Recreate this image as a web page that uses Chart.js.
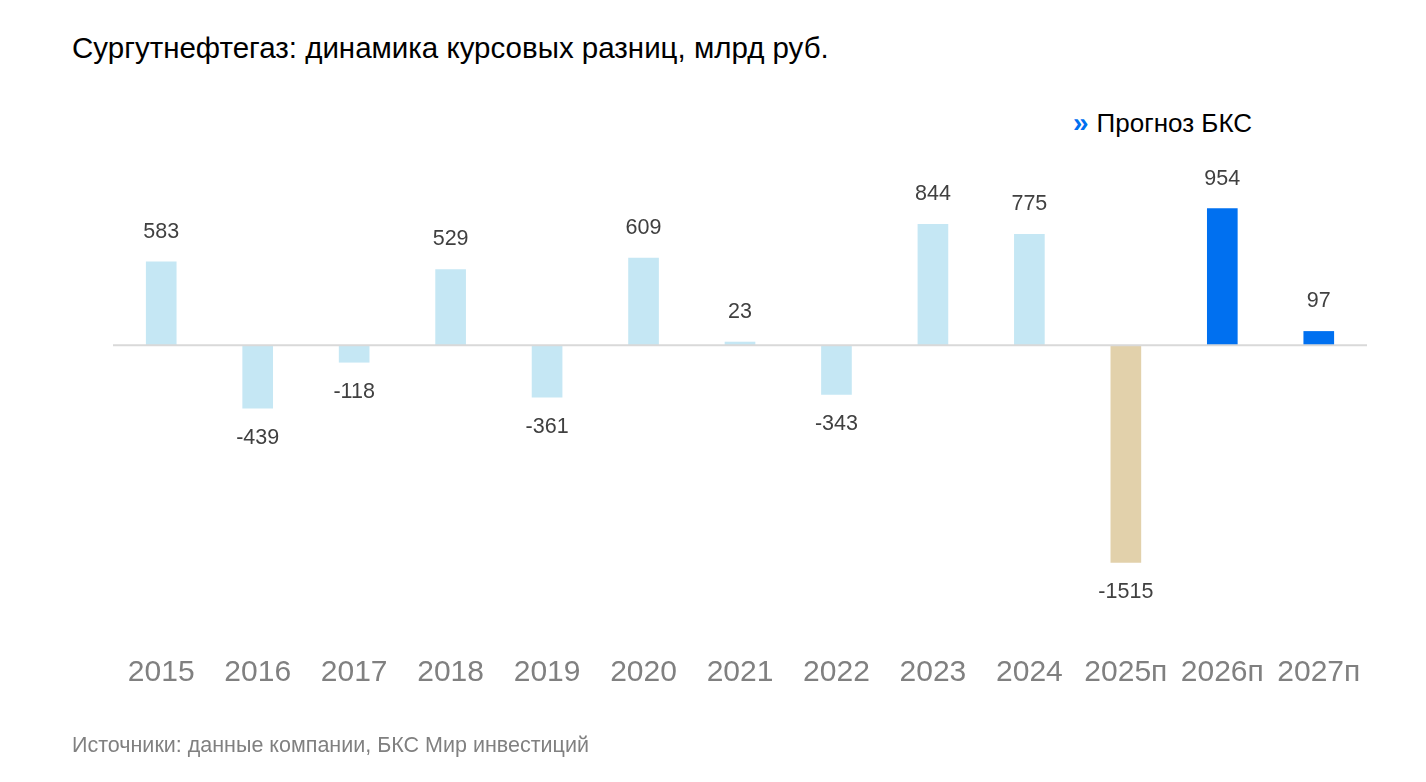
<!DOCTYPE html>
<html><head><meta charset="utf-8">
<script src="https://cdn.jsdelivr.net/npm/chart.js@4"></script>
<style>
body{margin:0;width:1426px;height:782px;background:#fff;font-family:Arial,"Liberation Sans",sans-serif;position:relative;overflow:hidden}
#title{position:absolute;left:72px;top:31px;font-size:29.5px;color:#000}
#legend{position:absolute;left:1073px;top:107px;font-size:26px;color:#000}
#legend b{color:#0070f0;font-size:28px;margin-right:8px}
#src{position:absolute;left:72px;top:733px;font-size:21.5px;color:#808080}
#wrap{position:absolute;left:0;top:0;width:1426px;height:737px}
</style></head><body>
<div id="title">Сургутнефтегаз: динамика курсовых разниц, млрд руб.</div>
<div id="legend"><b>»</b>Прогноз БКС</div>
<div id="wrap"><canvas id="c"></canvas></div>
<div id="src">Источники: данные компании, БКС Мир инвестиций</div>
<script>
const years = ['2015','2016','2017','2018','2019','2020','2021','2022','2023','2024','2025п','2026п','2027п'];
const values = [583,-439,-118,529,-361,609,23,-343,844,775,-1515,954,97];
const colors = ['#c5e7f4','#c5e7f4','#c5e7f4','#c5e7f4','#c5e7f4','#c5e7f4','#c5e7f4','#c5e7f4','#c5e7f4','#c5e7f4','#e2d1ab','#0070f0','#0070f0'];

const labelsPlugin = {
  id: 'vals',
  afterDatasetsDraw(chart) {
    const ctx = chart.ctx, y = chart.scales.y, a = chart.chartArea;
    ctx.save();
    ctx.strokeStyle = '#d9d9d9'; ctx.lineWidth = 2;
    ctx.beginPath(); ctx.moveTo(a.left, y.getPixelForValue(0)); ctx.lineTo(a.right, y.getPixelForValue(0)); ctx.stroke();
    ctx.fillStyle = '#404040'; ctx.font = '21.5px Arial, "Liberation Sans"';
    ctx.textAlign = 'center'; ctx.textBaseline = 'middle';
    chart.getDatasetMeta(0).data.forEach((bar, i) => {
      const v = values[i];
      ctx.fillText(String(v), bar.x, v >= 0 ? bar.y - 30 : bar.y + 30);
    });
    ctx.restore();
  }
};

new Chart(document.getElementById('c'), {
  type: 'bar',
  data: { labels: years, datasets: [{ data: values, backgroundColor: colors, barThickness: 30 }] },
  options: {
    responsive: true, maintainAspectRatio: false, animation: false,
    layout: { padding: { left: 113, right: 59, top: 160, bottom: 17 } },
    plugins: { legend: { display: false }, tooltip: { enabled: false } },
    scales: {
      x: { grid: { display: false, drawTicks: false }, border: { display: false },
           ticks: { color: '#808080', padding: 29, font: { size: 30, family: 'Arial, "Liberation Sans"' } } },
      y: { display: false, min: -1958, max: 1293 }
    }
  },
  plugins: [labelsPlugin]
});
</script>
</body></html>
